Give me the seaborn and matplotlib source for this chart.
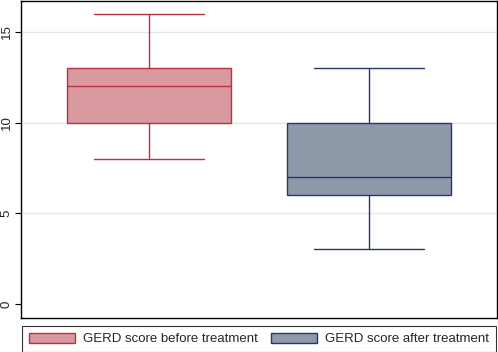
import pandas as pd
import matplotlib.pyplot as plt
import seaborn as sns
from matplotlib.patches import Patch

# GERD scores (chosen so quartiles/whiskers match the chart)
groups = ["GERD score before treatment", "GERD score after treatment"]
before_scores = [8, 10, 10, 12, 13, 13, 16]
after_scores = [3, 6, 6, 7, 10, 10, 13]
y_ticks = [0, 5, 10, 15]

fills = ["#D89AA0", "#9099AA"]
edges = ["#B8323F", "#1F3A6B"]


def main():
    df = pd.DataFrame({
        "group": [groups[0]] * len(before_scores) + [groups[1]] * len(after_scores),
        "score": before_scores + after_scores,
    })

    sns.set_style("white")
    plt.rcParams["font.family"] = ["Liberation Sans", "DejaVu Sans"]

    fig = plt.figure(figsize=(4.98, 3.52), dpi=100)
    ax = fig.add_axes([21 / 498, 34 / 352, 476 / 498, 317 / 352])

    sns.boxplot(data=df, x="group", y="score", hue="group", palette=fills,
                width=0.745, linewidth=1.0, whis=1.5, legend=False, ax=ax)

    # colour each box's outline, whiskers, caps and median by group
    for i, patch in enumerate(ax.patches):
        patch.set_edgecolor(edges[i])
        patch.set_facecolor(fills[i])
        patch.set_zorder(2)
    box_lines = [l for l in ax.lines if len(l.get_xdata()) == 2]
    per_box = len(box_lines) // 2
    for i in range(2):
        for line in box_lines[i * per_box:(i + 1) * per_box]:
            line.set_color(edges[i])
            line.set_linewidth(1.0)
            xd = line.get_xdata()
            yd = line.get_ydata()
            # caps: horizontal lines narrower than the box
            if yd[0] == yd[1] and abs(xd[1] - xd[0]) < 0.5:
                c = (xd[0] + xd[1]) / 2
                line.set_xdata([c - 0.25, c + 0.25])

    for y in y_ticks[1:]:
        ax.axhline(y, color="#e6e6e6", lw=1.0, zorder=0)

    ax.set_xlim(-0.582, 1.582)
    ax.set_ylim(-0.78, 16.7)
    ax.set_yticks(y_ticks)
    ax.set_yticklabels([str(t) for t in y_ticks], rotation=90, va="center", fontsize=9.5)
    ax.tick_params(axis="y", length=4, width=0.8, color="black", left=True, pad=2)
    ax.set_xticks([])
    ax.set_xlabel("")
    ax.set_ylabel("")
    for s in ax.spines.values():
        s.set_color("black")
        s.set_linewidth(1.0)

    handles = [Patch(facecolor=fills[i], edgecolor=edges[i], lw=1.0, label=groups[i]) for i in range(2)]
    leg = fig.legend(handles=handles, loc="lower center", bbox_to_anchor=(259 / 498, 0.0),
                     ncol=2, frameon=True, fancybox=False, fontsize=9.5,
                     handlelength=3.5, handleheight=0.8, columnspacing=1.0,
                     borderpad=0.5, handletextpad=0.6, borderaxespad=0.0)
    leg.get_frame().set_edgecolor("black")
    leg.get_frame().set_linewidth(0.8)

    fig.savefig("out.png", dpi=100)


if __name__ == "__main__":
    main()
